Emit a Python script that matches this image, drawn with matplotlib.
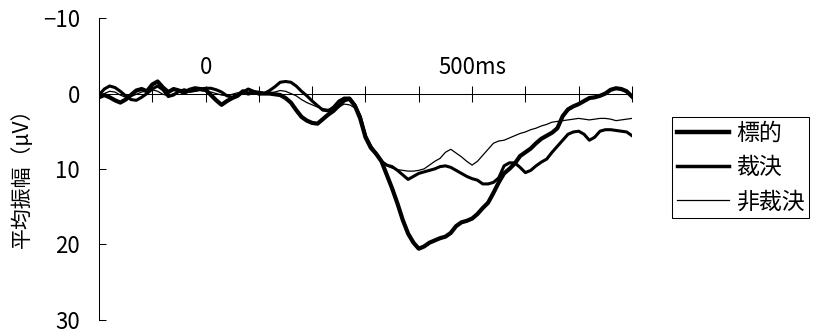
import numpy as np
import matplotlib
matplotlib.use("Agg")
import matplotlib.pyplot as plt
from matplotlib.lines import Line2D

plt.rcParams['font.family'] = ['Noto Sans CJK JP', 'DejaVu Sans']

# 時間軸 (ms): -200〜800 を 10ms 刻み
time_ms = np.arange(-200, 801, 10)

# 標的 (µV)
target = [
    0.5, 0.2, 0.5, 0.9, 1.2, 0.8, 0.2, -0.4, -0.6, -0.3,
    -1.2, -1.6, -0.8, -0.2, -0.6, -0.4, -0.1, -0.5, -0.7, -0.6,
    -0.5, 0.2, 0.9, 1.5, 1.0, 0.6, 0.3, -0.3, 0.0, -0.2,
    -0.1, 0.0, 0.0, 0.1, 0.2, 0.6, 1.2, 2.2, 3.1, 3.6,
    3.9, 4.0, 3.4, 2.8, 2.3, 1.6, 0.9, 0.7, 1.6, 3.3,
    5.8, 7.2, 8.0, 9.0, 10.8, 12.6, 14.6, 16.8, 18.6, 19.8,
    20.6, 20.3, 19.8, 19.5, 19.2, 19.0, 18.5, 17.6, 17.1, 16.9,
    16.6, 16.0, 15.2, 14.5, 13.2, 11.8, 10.6, 10.0, 9.3, 8.3,
    7.8, 7.3, 6.6, 6.0, 5.6, 5.2, 4.6, 3.0, 2.1, 1.7,
    1.4, 1.0, 0.6, 0.5, 0.3, 0.0, -0.5, -0.7, -0.6, -0.3,
    0.4,
]

# 裁決 (µV)
verdict = [
    0.2, -0.6, -1.0, -0.8, -0.3, 0.3, 0.8, 0.9, 0.5, 0.0,
    -0.6, -1.0, -0.5, 0.4, 0.2, -0.3, -0.5, -0.3, -0.4, -0.6,
    -0.7, -0.7, -0.5, -0.2, 0.3, 0.5, 0.2, -0.2, -0.6, -0.3,
    0.1, 0.0, -0.4, -0.9, -1.5, -1.6, -1.5, -1.0, -0.3, 0.3,
    1.0, 1.6, 2.2, 2.3, 1.8, 1.0, 0.6, 0.6, 1.5, 3.0,
    5.6, 7.0, 8.0, 9.0, 9.5, 9.7, 10.2, 10.8, 11.4, 11.0,
    10.6, 10.4, 10.2, 10.0, 9.7, 9.6, 9.8, 10.2, 10.6, 11.0,
    11.3, 11.5, 12.0, 12.0, 11.8, 11.2, 9.6, 9.2, 9.2, 9.8,
    10.5, 10.2, 9.6, 9.1, 8.7, 7.8, 7.0, 6.2, 5.4, 5.1,
    5.0, 5.4, 6.2, 5.8, 5.0, 4.8, 4.8, 4.9, 5.0, 5.1,
    5.6,
]

# 非裁決 (µV)
non_verdict = [
    0.3, 0.0, -0.3, -0.2, 0.2, 0.5, 0.4, 0.1, -0.2, -0.4,
    -0.5, -0.3, 0.1, 0.3, 0.0, -0.2, -0.3, -0.2, -0.3, -0.4,
    -0.3, -0.2, 0.0, 0.2, 0.3, 0.1, -0.1, -0.2, -0.1, 0.0,
    0.0, 0.0, -0.1, -0.2, -0.4, -0.3, 0.0, 0.3, 0.8, 1.2,
    1.5, 1.8, 2.0, 2.1, 2.0, 1.8, 1.4, 1.5, 1.9, 3.3,
    5.6, 7.0, 8.0, 9.0, 9.6, 9.9, 10.1, 10.2, 10.3, 10.3,
    10.2, 10.0, 9.5, 9.0, 8.6, 7.8, 7.4, 7.9, 8.4, 9.0,
    9.5, 9.0, 8.2, 7.4, 6.6, 6.3, 6.2, 5.9, 5.6, 5.3,
    5.1, 4.8, 4.6, 4.3, 4.1, 3.8, 3.7, 3.6, 3.5, 3.4,
    3.3, 3.4, 3.5, 3.4, 3.3, 3.3, 3.4, 3.6, 3.5, 3.4,
    3.3,
]

labels = ["標的", "裁決", "非裁決"]
widths = [3.0, 2.2, 0.9]

fig = plt.figure(figsize=(8.16, 3.33), dpi=100)
ax = fig.add_axes([0.1213, 0.0405, 0.6532, 0.9048])

for series, lw in zip([target, verdict, non_verdict], widths):
    ax.plot(time_ms, series, color="black", lw=lw, solid_joinstyle="round")

# 縦軸は陰性が上 (ERP の慣例)
ax.set_xlim(-200, 800)
ax.set_ylim(30, -10)
ax.set_yticks([-10, 0, 10, 20, 30])
ax.tick_params(axis="y", direction="in", length=5, width=0.75,
               labelsize=16, pad=13.5)

# 横軸は 0µV の位置に引く
ax.spines["bottom"].set_position(("data", 0))
ax.spines["top"].set_visible(False)
ax.spines["right"].set_visible(False)
for s in ("left", "bottom"):
    ax.spines[s].set_linewidth(0.75)
ax.set_xticks(np.arange(-200, 801, 100))
ax.tick_params(axis="x", direction="inout", length=11.5, width=0.75,
               labelbottom=False)

for t, txt in [(0, "0"), (500, "500ms")]:
    ax.annotate(txt, xy=(t, 0), xytext=(0, 19), textcoords="offset points",
                ha="center", va="center", fontsize=16)

fig.text(22 / 816, 1 - 173 / 333, "平均振幅（μV）", rotation=90,
         ha="center", va="center", fontsize=15)

handles = [Line2D([], [], color="black", lw=w) for w in [3.2, 2.5, 0.9]]
leg = fig.legend(handles, labels, loc="upper left",
                 bbox_to_anchor=(672 / 816, 1 - 117 / 333),
                 borderaxespad=0, fontsize=16.5, frameon=True, fancybox=False,
                 edgecolor="black", framealpha=1, borderpad=0.2,
                 handlelength=2.3, handletextpad=0.3, labelspacing=0.5)
leg.get_frame().set_linewidth(0.75)

fig.savefig("out.png", dpi=100)
